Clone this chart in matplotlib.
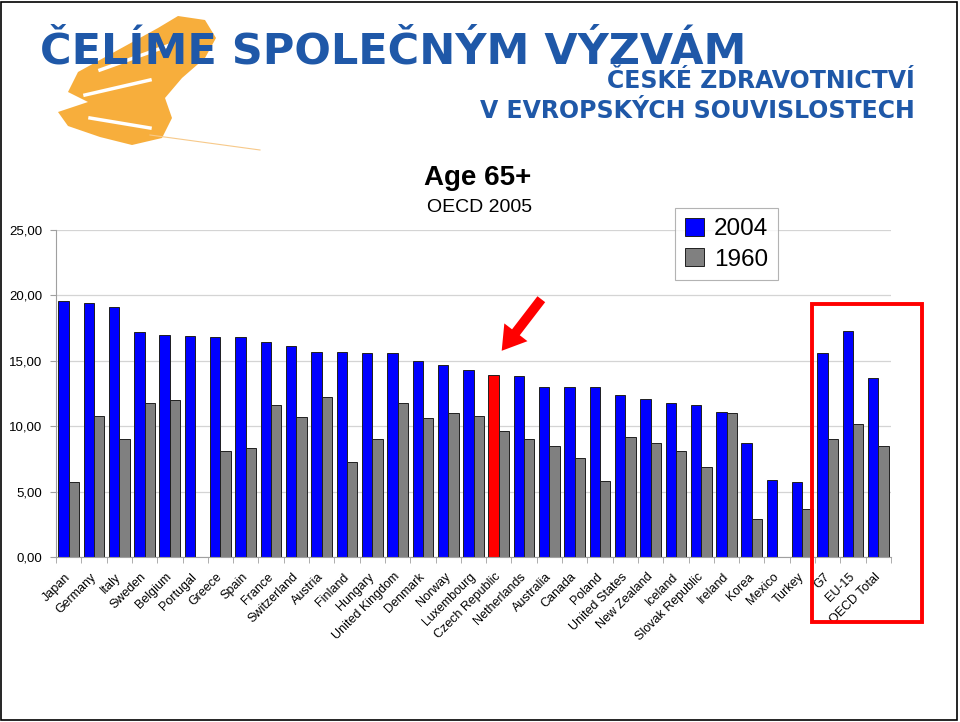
import numpy as np
import matplotlib.pyplot as plt
from matplotlib.patches import Rectangle, Polygon, FancyArrowPatch
from matplotlib.transforms import ScaledTranslation

plt.rcParams['font.family'] = ['Liberation Sans', 'DejaVu Sans']

countries = ['Japan', 'Germany', 'Italy', 'Sweden', 'Belgium', 'Portugal', 'Greece',
             'Spain', 'France', 'Switzerland', 'Austria', 'Finland', 'Hungary',
             'United Kingdom', 'Denmark', 'Norway', 'Luxembourg', 'Czech Republic',
             'Netherlands', 'Australia', 'Canada', 'Poland', 'United States',
             'New Zealand', 'Iceland', 'Slovak Republic', 'Ireland', 'Korea',
             'Mexico', 'Turkey', 'G7', 'EU-15', 'OECD Total']
v2004 = [19.6, 19.4, 19.1, 17.2, 17.0, 16.9, 16.8, 16.8, 16.4, 16.1, 15.7, 15.7, 15.6,
         15.6, 15.0, 14.7, 14.3, 13.9, 13.8, 13.0, 13.0, 13.0, 12.4, 12.1, 11.8, 11.6,
         11.1, 8.7, 5.9, 5.7, 15.6, 17.3, 13.7]
v1960 = [5.7, 10.8, 9.0, 11.8, 12.0, np.nan, 8.1, 8.3, 11.6, 10.7, 12.2, 7.3, 9.0,
         11.8, 10.6, 11.0, 10.8, 9.6, 9.0, 8.5, 7.6, 5.8, 9.2, 8.7, 8.1, 6.9,
         11.0, 2.9, np.nan, 3.7, 9.0, 10.2, 8.5]
highlight = 'Czech Republic'
yticks = [0, 5, 10, 15, 20, 25]

W, H = 960, 722
fig = plt.figure(figsize=(9.6, 7.22), dpi=100)

def fx(px):
    return px / W

def fy(py):
    return 1 - py / H

# header logo
swoosh = [(178, 16), (205, 20), (216, 38), (205, 58), (182, 78), (165, 98), (172, 118),
          (162, 138), (132, 145), (100, 137), (68, 126), (58, 112), (88, 102), (68, 92),
          (78, 72), (118, 50), (158, 28)]
fig.add_artist(Polygon([(fx(a), fy(b)) for a, b in swoosh], closed=True,
                       facecolor='#F7AE3C', edgecolor='none'))
for seg in [[(90, 118), (150, 128)], [(85, 95), (150, 80)], [(100, 70), (170, 45)]]:
    fig.add_artist(plt.Line2D([fx(p[0]) for p in seg], [fy(p[1]) for p in seg],
                              color='white', lw=2.5))
fig.add_artist(plt.Line2D([fx(150), fx(260)], [fy(135), fy(150)], color='#F7C98A', lw=0.8))
logo_blue = '#1F58A8'
fig.text(fx(40), fy(63), 'ČELÍME SPOLEČNÝM VÝZVÁM', fontsize=31, fontweight='bold',
         color=logo_blue, va='baseline', ha='left', family='DejaVu Sans')
fig.text(fx(915), fy(88), 'ČESKÉ ZDRAVOTNICTVÍ', fontsize=17, fontweight='bold',
         color=logo_blue, va='baseline', ha='right', family='DejaVu Sans')
fig.text(fx(915), fy(118), 'V EVROPSKÝCH SOUVISLOSTECH', fontsize=17, fontweight='bold',
         color=logo_blue, va='baseline', ha='right', family='DejaVu Sans')

# titles
fig.text(fx(478), fy(178), 'Age 65+', fontsize=20, fontweight='bold', ha='center', va='center')
fig.text(fx(480), fy(208), 'OECD 2005', fontsize=14, ha='center', va='center')

ax = fig.add_axes([fx(56), fy(557), (891 - 56) / W, (557 - 230) / H])
x = np.arange(len(countries))
w = 0.41
colors = ['#FF0000' if c == highlight else '#0000FF' for c in countries]
ax.bar(x - w / 2, v2004, w, color=colors, edgecolor='#202020', linewidth=0.7, label='2004')
ax.bar(x + w / 2, v1960, w, color='#808080', edgecolor='#202020', linewidth=0.7, label='1960')

ax.set_xlim(-0.5, len(countries) - 0.5)
ax.set_ylim(0, 25)
ax.set_yticks(yticks)
ax.set_yticklabels([f'{v:.2f}'.replace('.', ',') for v in yticks], fontsize=9.5)
ax.yaxis.grid(True, color='#D4D4D4', lw=0.9)
ax.set_axisbelow(True)
for s in ['top', 'right']:
    ax.spines[s].set_visible(False)
ax.spines['left'].set_color('#A0A0A0')
ax.spines['bottom'].set_color('#A0A0A0')
ax.tick_params(axis='y', color='#A0A0A0', length=4, pad=6)

ax.set_xticks(x)
ax.set_xticklabels(countries, rotation=45, ha='right', va='top',
                   rotation_mode='anchor', fontsize=9)
ax.set_xticks(np.arange(len(countries) + 1) - 0.5, minor=True)
ax.tick_params(axis='x', which='major', length=0, pad=10)
ax.tick_params(axis='x', which='minor', length=4, color='#A0A0A0')
for lbl in ax.get_xticklabels():
    lbl.set_transform(lbl.get_transform() + ScaledTranslation(-3 / 72, 0, fig.dpi_scale_trans))

leg = ax.legend(loc='upper left', bbox_to_anchor=(fx(675), fy(208)),
                bbox_transform=fig.transFigure, fontsize=17.5, frameon=True,
                fancybox=False, edgecolor='#A0A0A0', handlelength=0.8, handleheight=0.8,
                handletextpad=0.4, borderpad=0.4, labelspacing=0.3, borderaxespad=0)
leg.get_frame().set_linewidth(0.8)

# annotations: arrow and highlight box
fig.add_artist(FancyArrowPatch((fx(543), fy(297)), (fx(500), fy(353)),
                               transform=fig.transFigure,
                               arrowstyle='simple,head_length=1.2,head_width=1.5,tail_width=0.5',
                               mutation_scale=14, color='#FF0000', lw=0))
fig.add_artist(Rectangle((fx(812), fy(622)), fx(922 - 812), (622 - 304) / H,
                         transform=fig.transFigure, fill=False, edgecolor='#FF0000', lw=2.8))

fig.add_artist(Rectangle((0.001, 0.003), 0.996, 0.994, transform=fig.transFigure,
                         fill=False, edgecolor='black', lw=1.2))

fig.savefig('out.png', dpi=100)
